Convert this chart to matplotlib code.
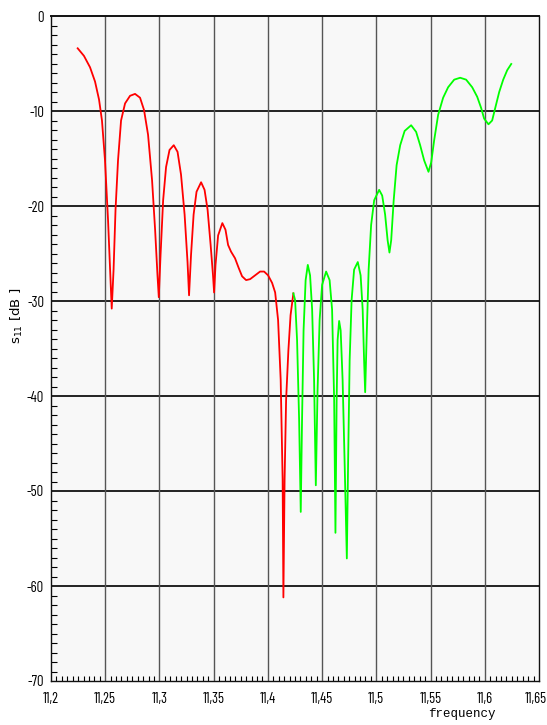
"""Reflection coefficient s11 versus frequency, two bands (red / green)."""

import matplotlib
matplotlib.use("Agg")
import matplotlib.pyplot as plt
import matplotlib.transforms as mtransforms
from matplotlib.ticker import MultipleLocator, FixedLocator

# Section: values.
red_freq = [
    11.2246, 11.2304, 11.2360, 11.2406, 11.2443, 11.2470, 11.2498, 11.2526, 11.2549, 11.2560,
    11.2577, 11.2595, 11.2618, 11.2646, 11.2683, 11.2729, 11.2775, 11.2821, 11.2858, 11.2895,
    11.2932, 11.2960, 11.2982, 11.2994,
    11.3010, 11.3034, 11.3061, 11.3093, 11.3132, 11.3167, 11.3199, 11.3232, 11.3259, 11.3273,
    11.3291, 11.3315, 11.3342, 11.3384, 11.3416, 11.3444, 11.3472, 11.3494, 11.3504,
    11.3517, 11.3541, 11.3580, 11.3609, 11.3633, 11.3660, 11.3697, 11.3730, 11.3762, 11.3799,
    11.3836, 11.3882, 11.3928, 11.3965, 11.4002, 11.4039, 11.4067, 11.4094, 11.4118, 11.4136,
    11.4143, 11.4154, 11.4168, 11.4189, 11.4209, 11.4235,
]
red_db = [
    -3.4, -4.2, -5.4, -6.9, -8.8, -11.0, -15.2, -21.5, -27.8, -30.8,
    -26.7, -20.4, -15.2, -11.0, -9.2, -8.4, -8.2, -8.6, -9.9, -12.5,
    -17.3, -22.5, -27.3, -29.6,
    -25.2, -19.4, -15.9, -14.1, -13.6, -14.3, -16.7, -20.9, -25.9, -29.4,
    -25.2, -20.9, -18.5, -17.5, -18.3, -20.4, -24.1, -27.3, -29.1,
    -26.2, -23.1, -21.8, -22.5, -24.1, -24.8, -25.5, -26.5, -27.4, -27.8,
    -27.7, -27.3, -26.9, -26.9, -27.3, -28.1, -29.1, -32.0, -38.3, -48.8,
    -61.2, -48.8, -40.4, -35.2, -31.5, -29.2,
]

green_freq = [
    11.4235, 11.4251, 11.4269, 11.4288, 11.4303, 11.4315, 11.4329, 11.4348, 11.4368, 11.4389,
    11.4408, 11.4426, 11.4442, 11.4458, 11.4477, 11.4500, 11.4537, 11.4569, 11.4592, 11.4611,
    11.4623, 11.4634, 11.4643, 11.4657, 11.4671, 11.4689, 11.4707, 11.4728, 11.4740, 11.4754,
    11.4772, 11.4795, 11.4829, 11.4855, 11.4874, 11.4887, 11.4897, 11.4910, 11.4929, 11.4952,
    11.4980, 11.5026, 11.5054, 11.5081, 11.5104, 11.5121, 11.5137, 11.5160, 11.5187, 11.5220,
    11.5261, 11.5321, 11.5367, 11.5404, 11.5441, 11.5481, 11.5506, 11.5533, 11.5570, 11.5616,
    11.5662, 11.5718, 11.5773, 11.5828, 11.5884, 11.5930, 11.5967, 11.5994, 11.6034, 11.6068,
    11.6096, 11.6133, 11.6170, 11.6207, 11.6244,
]
green_db = [
    -29.2, -29.9, -34.1, -42.5, -52.2, -42.5, -33.1, -27.8, -26.2, -27.3,
    -30.9, -38.3, -49.4, -39.4, -32.0, -28.3, -26.9, -27.8, -30.9, -40.4,
    -54.4, -40.4, -34.1, -32.1, -33.1, -38.3, -46.7, -57.1, -46.7, -36.2,
    -29.9, -26.7, -25.9, -27.3, -30.9, -36.2, -39.6, -34.1, -26.7, -22.0,
    -19.4, -18.3, -18.9, -20.9, -23.6, -24.9, -23.6, -19.4, -15.7, -13.6,
    -12.1, -11.5, -12.2, -13.6, -15.2, -16.4, -15.4, -13.1, -10.4, -8.6,
    -7.5, -6.7, -6.5, -6.7, -7.5, -8.5, -9.7, -10.8, -11.4, -11.0,
    -9.7, -8.0, -6.7, -5.7, -5.05,
]

x_ticks = [11.2, 11.25, 11.3, 11.35, 11.4, 11.45, 11.5, 11.55, 11.6, 11.65]
x_labels = ["11,2", "11,25", "11,3", "11,35", "11,4", "11,45", "11,5", "11,55", "11,6", "11,65"]
y_ticks = [0, -10, -20, -30, -40, -50, -60, -70]
y_labels = ["0", "-10", "-20", "-30", "-40", "-50", "-60", "-70"]

TICK_FONT = ["Barlow Condensed", "Archivo Narrow", "DejaVu Sans"]


# Section: draw the figure.
def main() -> None:
    fig = plt.figure(figsize=(5.47, 7.25), dpi=100)
    ax = fig.add_axes([51 / 547, 1 - 681 / 725, 488 / 547, 665 / 725])
    ax.set_facecolor("#f8f8f8")

    for y in y_ticks[1:-1]:
        ax.axhline(y, color="#111111", linewidth=1.3, zorder=1)
    for x in x_ticks[1:-1]:
        ax.axvline(x, color="#555555", linewidth=1.0, zorder=1)

    ax.plot(red_freq, red_db, color="#ff0000", linewidth=1.3, zorder=3)
    ax.plot(green_freq, green_db, color="#00ff00", linewidth=1.3, zorder=3)

    ax.set_xlim(11.2, 11.65)
    ax.set_ylim(-70, 0)

    ax.xaxis.set_major_locator(FixedLocator(x_ticks))
    ax.set_xticklabels(x_labels, family=TICK_FONT, fontsize=10.5)
    ax.xaxis.set_minor_locator(MultipleLocator(0.005))
    ax.yaxis.set_major_locator(FixedLocator(y_ticks))
    ax.set_yticklabels(y_labels, family=TICK_FONT, fontsize=10.5)
    ax.yaxis.set_minor_locator(MultipleLocator(1))

    ax.tick_params(axis="x", which="major", length=0, pad=8)
    ax.tick_params(axis="x", which="minor", direction="in", length=3.5, width=0.8)
    ax.tick_params(axis="y", which="major", length=0, pad=5)
    ax.tick_params(axis="y", which="minor", direction="in", length=4, width=0.8)

    # the last x label sits a little left of its tick so it stays inside the figure
    last = ax.get_xticklabels()[-1]
    last.set_transform(last.get_transform() + mtransforms.ScaledTranslation(-3 / 100, 0, fig.dpi_scale_trans))

    for side in ["left", "bottom", "right"]:
        ax.spines[side].set_linewidth(1.0)
        ax.spines[side].set_color("#111111")
    ax.spines["top"].set_linewidth(1.4)
    ax.spines["top"].set_color("#111111")

    fig.text(462 / 547, 1 - 714 / 725, "frequency", ha="center", va="center",
             family=["Liberation Mono", "DejaVu Sans Mono"], fontsize=9)
    fig.text(17 / 547, 1 - 316 / 725, "s$_{11}$ [dB ]", ha="center", va="center",
             rotation=90, family=["DejaVu Sans"], fontsize=9.5)

    fig.savefig("out.png", dpi=100)
    plt.close(fig)


if __name__ == "__main__":
    main()
